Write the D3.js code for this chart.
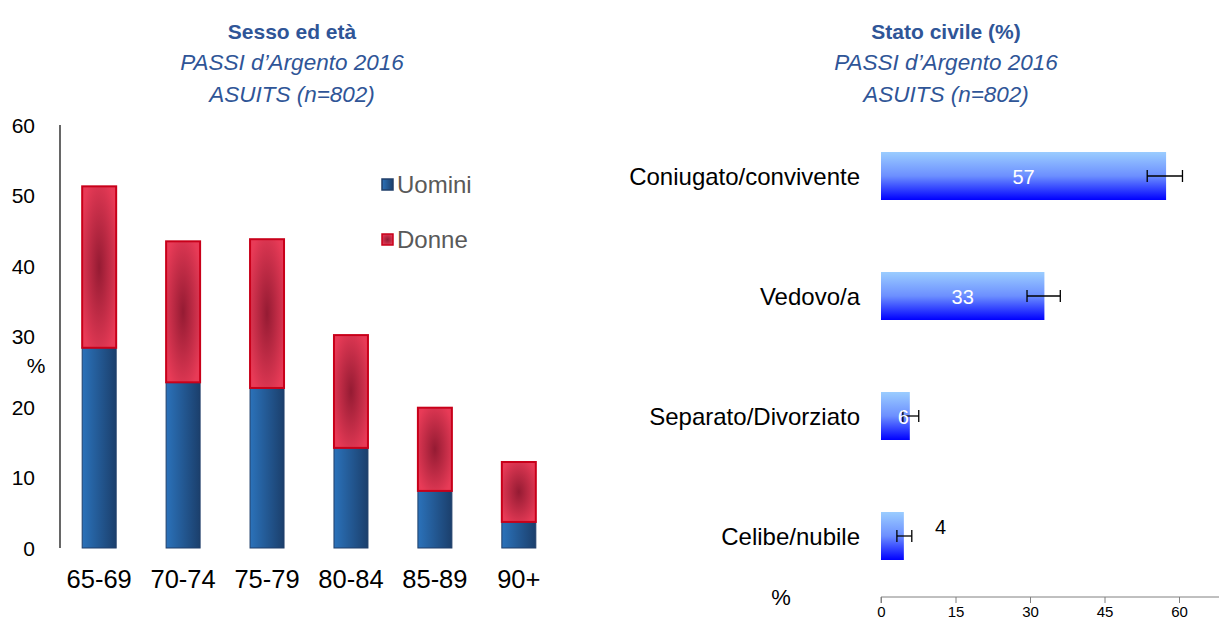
<!DOCTYPE html>
<html>
<head>
<meta charset="utf-8">
<script src="https://d3js.org/d3.v7.min.js"></script>
<style>
  body { margin: 0; background: #fff; }
  svg { font-family: "Liberation Sans", Arial, sans-serif; }
</style>
</head>
<body>
<svg id="vis"></svg>
<script>
  // Left chart data: age groups, % within each sex
  var ageGroups = ['65-69', '70-74', '75-79', '80-84', '85-89', '90+'];
  var uomini = [28.4, 23.5, 22.7, 14.2, 8.1, 3.7];
  var donne = [22.9, 20.0, 21.1, 16.0, 11.8, 8.5];
  var leftTicks = [0, 10, 20, 30, 40, 50, 60];

  // Right chart data: marital status with confidence intervals
  var civilCats = ['Coniugato/convivente', 'Vedovo/a', 'Separato/Divorziato', 'Celibe/nubile'];
  var civilVals = [57, 33, 6, 4];
  var civilShown = [57.4, 32.9, 5.8, 4.6];
  var civilLow = [53.6, 29.4, 4.4, 3.2];
  var civilHigh = [60.7, 36.1, 7.6, 6.2];
  var rightTicks = [0, 15, 30, 45, 60];

  var svg = d3.select('#vis')
      .attr('width', 1219)
      .attr('height', 623);

  var defs = svg.append('defs');
  var gBlue = defs.append('linearGradient').attr('id', 'gUomini')
      .attr('x1', '0%').attr('x2', '100%').attr('y1', '0%').attr('y2', '0%');
  gBlue.append('stop').attr('offset', '0%').attr('stop-color', '#2b72ba');
  gBlue.append('stop').attr('offset', '100%').attr('stop-color', '#1b3f6c');

  var gRed = defs.append('radialGradient').attr('id', 'gDonne')
      .attr('cx', '50%').attr('cy', '50%').attr('r', '60%');
  gRed.append('stop').attr('offset', '0%').attr('stop-color', '#951b33');
  gRed.append('stop').attr('offset', '100%').attr('stop-color', '#e83b57');

  var gSky = defs.append('linearGradient').attr('id', 'gCivile')
      .attr('x1', '0%').attr('x2', '0%').attr('y1', '0%').attr('y2', '100%');
  gSky.append('stop').attr('offset', '0%').attr('stop-color', '#9bcdff');
  gSky.append('stop').attr('offset', '50%').attr('stop-color', '#6c8fff');
  gSky.append('stop').attr('offset', '100%').attr('stop-color', '#0000ff');

  // Titles
  var titleColor = '#2f5597';
  function title(cx, main) {
    svg.append('text').attr('x', cx).attr('y', 39).attr('text-anchor', 'middle')
        .attr('font-size', 21).attr('font-weight', 'bold').attr('fill', titleColor).text(main);
    svg.append('text').attr('x', cx).attr('y', 70).attr('text-anchor', 'middle')
        .attr('font-size', 22.5).attr('font-style', 'italic').attr('fill', titleColor).text('PASSI d\u2019Argento 2016');
    svg.append('text').attr('x', cx).attr('y', 102).attr('text-anchor', 'middle')
        .attr('font-size', 22.5).attr('font-style', 'italic').attr('fill', titleColor).text('ASUITS (n=802)');
  }
  title(292, 'Sesso ed età');
  title(946, 'Stato civile (%)');

  // ---------- Left chart ----------
  var xAge = d3.scaleBand().domain(ageGroups).range([57, 561]).paddingInner(0.595).paddingOuter(0.3);
  var yPct = d3.scaleLinear().domain([0, 60]).range([548, 125]);

  svg.append('line').attr('x1', 60).attr('x2', 60).attr('y1', 125).attr('y2', 548)
      .attr('stroke', '#000').attr('stroke-width', 1.2);

  svg.selectAll('.ytick').data(leftTicks).enter().append('text')
      .attr('class', 'ytick')
      .attr('x', 35).attr('y', function(d) { return yPct(d) + 7.5; })
      .attr('text-anchor', 'end').attr('font-size', 21).attr('fill', '#000')
      .text(function(d) { return d; });

  svg.append('text').attr('x', 36).attr('y', 373).attr('text-anchor', 'middle')
      .attr('font-size', 21).text('%');

  svg.selectAll('.xlab').data(ageGroups).enter().append('text')
      .attr('class', 'xlab')
      .attr('x', function(d) { return xAge(d) + xAge.bandwidth() / 2; })
      .attr('y', 588).attr('text-anchor', 'middle').attr('font-size', 25.5).attr('fill', '#000')
      .text(function(d) { return d; });

  svg.selectAll('.barU').data(ageGroups).enter().append('rect')
      .attr('class', 'barU')
      .attr('x', function(d) { return xAge(d); })
      .attr('y', function(d, i) { return yPct(uomini[i]); })
      .attr('width', xAge.bandwidth())
      .attr('height', function(d, i) { return yPct(0) - yPct(uomini[i]); })
      .attr('fill', 'url(#gUomini)').attr('stroke', '#203f6a').attr('stroke-width', 1);

  svg.selectAll('.barD').data(ageGroups).enter().append('rect')
      .attr('class', 'barD')
      .attr('x', function(d) { return xAge(d); })
      .attr('y', function(d, i) { return yPct(uomini[i] + donne[i]); })
      .attr('width', xAge.bandwidth())
      .attr('height', function(d, i) { return yPct(uomini[i]) - yPct(uomini[i] + donne[i]); })
      .attr('fill', 'url(#gDonne)').attr('stroke', '#c8001a').attr('stroke-width', 2);

  // Legend
  var legend = [['Uomini', 'url(#gUomini)', '#203f6a', 185], ['Donne', 'url(#gDonne)', '#c8001a', 240]];
  legend.forEach(function(l) {
    svg.append('rect').attr('x', 382).attr('y', l[3] - 6).attr('width', 11).attr('height', 11)
        .attr('fill', l[1]).attr('stroke', l[2]).attr('stroke-width', 1.5);
    svg.append('text').attr('x', 397).attr('y', l[3] + 8).attr('font-size', 24)
        .attr('fill', '#595959').text(l[0]);
  });

  // ---------- Right chart ----------
  var xCiv = d3.scaleLinear().domain([0, 60]).range([881, 1179]);
  var yCiv = d3.scaleBand().domain(civilCats).range([116, 596]).paddingInner(0.6).paddingOuter(0.3);

  var axis = svg.append('g').attr('transform', 'translate(0,597)')
      .call(d3.axisBottom(xCiv).tickValues(rightTicks).tickSize(6).tickPadding(3));
  axis.select('.domain').attr('stroke', '#808080').attr('d', 'M881,6V0H1219');
  axis.selectAll('.tick line').attr('stroke', '#808080');
  axis.selectAll('.tick text').attr('font-size', 15).attr('fill', '#000')
      .attr('font-family', '"Liberation Sans", Arial, sans-serif');

  svg.append('text').attr('x', 781).attr('y', 605).attr('text-anchor', 'middle')
      .attr('font-size', 22).text('%');

  svg.selectAll('.civLab').data(civilCats).enter().append('text')
      .attr('class', 'civLab')
      .attr('x', 860).attr('y', function(d) { return yCiv(d) + yCiv.bandwidth() / 2 + 8.5; })
      .attr('text-anchor', 'end').attr('font-size', 24).attr('fill', '#000')
      .text(function(d) { return d; });

  svg.selectAll('.civBar').data(civilCats).enter().append('rect')
      .attr('class', 'civBar')
      .attr('x', xCiv(0))
      .attr('y', function(d) { return yCiv(d); })
      .attr('width', function(d, i) { return xCiv(civilShown[i]) - xCiv(0); })
      .attr('height', yCiv.bandwidth())
      .attr('fill', 'url(#gCivile)');

  // error bars
  civilCats.forEach(function(c, i) {
    var cy = yCiv(c) + yCiv.bandwidth() / 2;
    var g = svg.append('g').attr('stroke', '#000').attr('stroke-width', 1.3);
    g.append('line').attr('x1', xCiv(civilLow[i])).attr('x2', xCiv(civilHigh[i])).attr('y1', cy).attr('y2', cy);
    g.append('line').attr('x1', xCiv(civilLow[i])).attr('x2', xCiv(civilLow[i])).attr('y1', cy - 6).attr('y2', cy + 6);
    g.append('line').attr('x1', xCiv(civilHigh[i])).attr('x2', xCiv(civilHigh[i])).attr('y1', cy - 6).attr('y2', cy + 6);
  });

  // value labels
  svg.selectAll('.civVal').data(civilCats).enter().append('text')
      .attr('class', 'civVal')
      .attr('x', function(d, i) { return i < 3 ? (xCiv(0) + xCiv(civilShown[i])) / 2 + (i == 2 ? 8 : 0) : xCiv(12); })
      .attr('y', function(d, i) { return yCiv(d) + yCiv.bandwidth() / 2 + (i < 3 ? 8 : -2); })
      .attr('text-anchor', 'middle').attr('font-size', 20)
      .attr('fill', function(d, i) { return i < 3 ? '#fff' : '#000'; })
      .text(function(d, i) { return civilVals[i]; });
</script>
</body>
</html>
